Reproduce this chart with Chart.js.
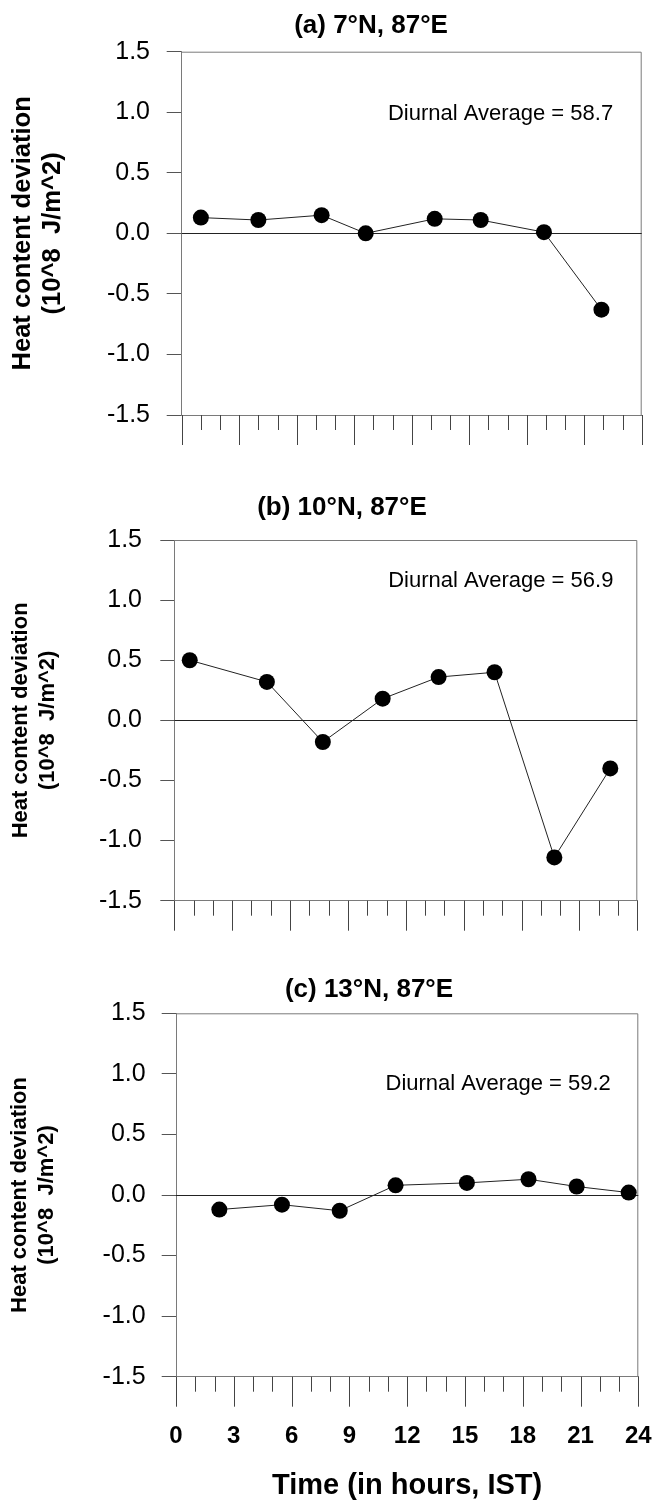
<!DOCTYPE html>
<html>
<head>
<meta charset="utf-8">
<script src="https://cdn.jsdelivr.net/npm/chart.js@4.4.1/dist/chart.umd.min.js"></script>
<style>
  html, body { margin: 0; padding: 0; background: #fff; }
  #fig { position: relative; width: 654px; height: 1503px; background: #fff; }
  .panel { position: absolute; left: 0; width: 654px; }
  canvas { display: block; }
</style>
</head>
<body>
<div id="fig">
  <div class="panel" style="top:0;height:480px"><canvas id="chartA" width="654" height="480"></canvas></div>
  <div class="panel" style="top:480px;height:480px"><canvas id="chartB" width="654" height="480"></canvas></div>
  <div class="panel" style="top:960px;height:543px"><canvas id="chartC" width="654" height="543"></canvas></div>
</div>
<script>
// observation times (hours, IST) and heat content deviation (10^8 J/m^2)
const hoursA = [1.0, 4.0, 7.3, 9.6, 13.2, 15.6, 18.9, 21.9];
const heatA  = [0.13, 0.11, 0.15, 0.0, 0.12, 0.11, 0.01, -0.63];

const hoursB = [0.8, 4.8, 7.7, 10.8, 13.7, 16.6, 19.7, 22.6];
const heatB  = [0.50, 0.32, -0.18, 0.18, 0.36, 0.40, -1.14, -0.40];

const hoursC = [2.25, 5.5, 8.5, 11.4, 15.1, 18.3, 20.8, 23.5];
const heatC  = [-0.12, -0.08, -0.13, 0.08, 0.10, 0.13, 0.07, 0.02];

const panelTitles = ['(a) 7°N, 87°E', '(b) 10°N, 87°E', '(c) 13°N, 87°E'];
const diurnalAverages = [58.7, 56.9, 59.2];

const hourTicks = [0, 3, 6, 9, 12, 15, 18, 21, 24];
const heatTicks = [-1.5, -1.0, -0.5, 0.0, 0.5, 1.0, 1.5];

const yTitle = ['Heat content deviation', '(10^8  J/m^2)'];
const xTitle = 'Time (in hours, IST)';

const FONT = '"Liberation Sans", Arial, Helvetica, sans-serif';
Chart.defaults.font.family = FONT;
Chart.defaults.color = '#000';

const FRAME = '#7a7a7a';

// frame, zero line, hour tick marks, panel title and the average label
const panelDecor = {
  id: 'panelDecor',
  beforeDatasetsDraw(chart, args, opts) {
    const { ctx, chartArea: a } = chart;
    const ys = chart.scales.y, xs = chart.scales.x;
    ctx.save();
    ctx.lineWidth = 1;
    ctx.strokeStyle = FRAME;
    ctx.beginPath();
    ctx.moveTo(a.left, a.top + 0.5);
    ctx.lineTo(a.right - 0.5, a.top + 0.5);
    ctx.lineTo(a.right - 0.5, a.bottom);
    ctx.stroke();

    const y0 = Math.round(ys.getPixelForValue(0)) + 0.5;
    ctx.strokeStyle = '#222';
    ctx.beginPath();
    ctx.moveTo(a.left, y0);
    ctx.lineTo(a.right, y0);
    ctx.stroke();

    ctx.strokeStyle = '#444';
    for (let h = xs.min; h <= xs.max; h++) {
      const x = Math.round(xs.getPixelForValue(h)) + 0.5;
      const len = h % 3 === 0 ? 30 : 15;
      ctx.beginPath();
      ctx.moveTo(x, a.bottom);
      ctx.lineTo(x, a.bottom + len);
      ctx.stroke();
    }
    ctx.restore();
  },
  afterDraw(chart, args, opts) {
    const { ctx } = chart;
    const ys = chart.scales.y, xs = chart.scales.x;
    ctx.save();
    ctx.fillStyle = '#000';
    ctx.textBaseline = 'middle';
    ctx.textAlign = 'center';
    ctx.font = 'bold 26px ' + FONT;
    ctx.fillText(opts.title, opts.titleX, opts.titleY);

    ctx.textAlign = 'right';
    ctx.font = '22px ' + FONT;
    ctx.fillText('Diurnal Average = ' + opts.average.toFixed(1),
      xs.getPixelForValue(opts.noteAt[0]), ys.getPixelForValue(opts.noteAt[1]));
    ctx.restore();
  }
};

function makePanel(id, hours, heat, p) {
  const el = document.getElementById(id);
  return new Chart(el, {
    type: 'line',
    data: {
      datasets: [{
        data: hours.map((h, i) => ({ x: h, y: heat[i] })),
        borderColor: '#222',
        borderWidth: 1,
        pointRadius: 8,
        pointBackgroundColor: '#000',
        pointBorderColor: '#000',
        pointBorderWidth: 0,
        tension: 0,
        clip: false
      }]
    },
    options: {
      responsive: false,
      animation: false,
      layout: { padding: { top: p.top, right: p.right, bottom: 0, left: 0 } },
      plugins: {
        legend: { display: false },
        tooltip: { enabled: false },
        panelDecor: {
          title: p.title, titleX: p.titleX, titleY: p.titleY,
          average: p.average, noteAt: p.noteAt
        }
      },
      scales: {
        x: {
          type: 'linear',
          min: 0,
          max: 24,
          afterBuildTicks: s => { s.ticks = hourTicks.map(v => ({ value: v })); },
          afterFit: s => { s.height = p.xHeight; },
          // tick marks are drawn by panelDecor; tickLength only sets the label offset
          grid: { display: false, drawTicks: true, tickLength: 45 },
          border: { display: true, color: FRAME, width: 1 },
          ticks: {
            display: p.showHours,
            padding: 0,
            maxRotation: 0,
            autoSkip: false,
            font: { size: 24, weight: 'bold' },
            color: '#000'
          },
          title: {
            display: p.showHours,
            text: xTitle,
            font: { size: 29, weight: 'bold' },
            padding: { top: 0, bottom: 0 },
            color: '#000'
          }
        },
        y: {
          min: -1.5,
          max: 1.5,
          afterBuildTicks: s => { s.ticks = heatTicks.map(v => ({ value: v })); },
          afterFit: s => { s.width = p.left; },
          grid: {
            drawOnChartArea: false,
            drawTicks: true,
            tickLength: p.tickLen,
            color: '#555'
          },
          border: { display: true, color: FRAME, width: 1 },
          ticks: {
            padding: p.tickPad,
            font: { size: 25 },
            color: '#000',
            callback: v => v.toFixed(1)
          },
          title: {
            display: true,
            text: yTitle,
            font: { size: p.yFont, weight: 'bold', lineHeight: p.yLine },
            padding: { top: p.yPad, bottom: 0 },
            color: '#000'
          }
        }
      }
    },
    plugins: [panelDecor]
  });
}

makePanel('chartA', hoursA, heatA, {
  top: 51.7, right: 12.3, left: 181.7, xHeight: 65, showHours: false,
  tickLen: 15, tickPad: 16.7, yFont: 25.6, yLine: 1.17, yPad: 8.3,
  title: panelTitles[0], titleX: 371, titleY: 25.5,
  average: diurnalAverages[0], noteAt: [22.51, 0.986]
});

makePanel('chartB', hoursB, heatB, {
  top: 60, right: 16.7, left: 174.3, xHeight: 59.3, showHours: false,
  tickLen: 14, tickPad: 18.3, yFont: 22, yLine: 1.23, yPad: 7.5,
  title: panelTitles[1], titleX: 342, titleY: 28.3,
  average: diurnalAverages[1], noteAt: [22.76, 1.156]
});

makePanel('chartC', hoursC, heatC, {
  top: 53.3, right: 15.7, left: 176, xHeight: 126.3, showHours: true,
  tickLen: 14.3, tickPad: 16, yFont: 22, yLine: 1.23, yPad: 6.5,
  title: panelTitles[2], titleX: 369, titleY: 29.4,
  average: diurnalAverages[2], noteAt: [22.57, 0.914]
});
</script>
</body>
</html>
